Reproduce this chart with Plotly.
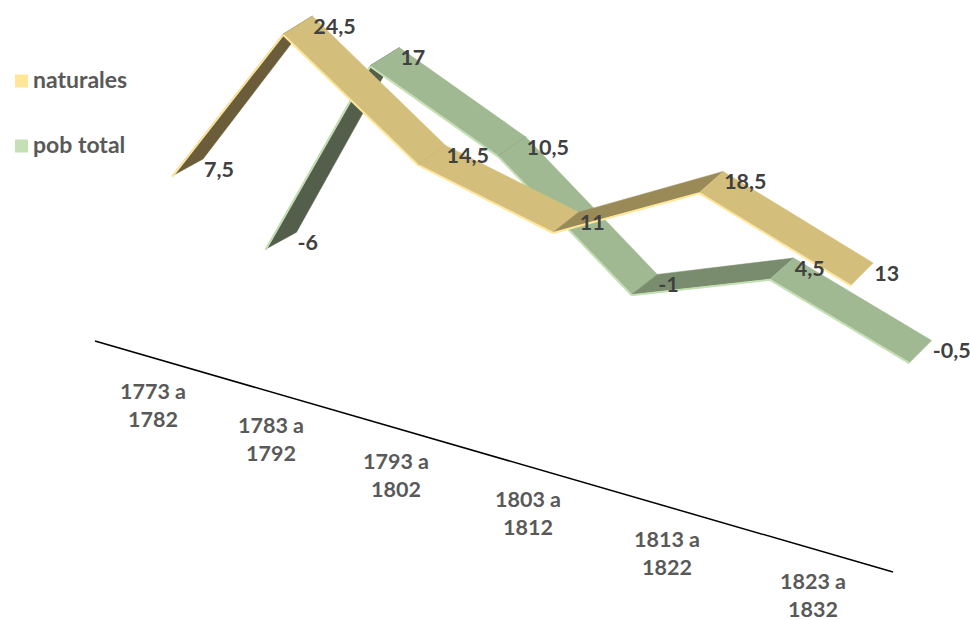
import plotly.graph_objects as go

categories = ["1773 a 1782", "1783 a 1792", "1793 a 1802", "1803 a 1812", "1813 a 1822", "1823 a 1832"]
naturales = [7.5, 24.5, 14.5, 11, 18.5, 13]
pob_total = [-6, 17, 10.5, -1, 4.5, -0.5]

FONT = "Lato, Carlito, Calibri, sans-serif"
# receding category axis: canvas offset of each category (perspective spacing)
AXIS_X = [0, 123, 251, 383.5, 535, 683]


def front(i, v, d):
    """Oblique 3-D projection: category i, value v, series depth d -> canvas position."""
    depth_x = 84 - 1.0 * i - 1.2 * i * i
    x = 177.3 + AXIS_X[i] - 0.7 * v + d * depth_x
    y = 251 + 28 * i + 1.2 * i * (i - 1) - (10 - 0.8 * d) * v - 57 * d
    return x, y


def back(i, v, d):
    x, y = front(i, v, d)
    return x + 31 - 1.8 * i, y - 17 - i


STYLE = {
    "naturales": dict(d=0, edge="#FFE699", fall="#D3BE7C", mild="#9A8A58", steep="#6B5D3A"),
    "pob total": dict(d=1, edge="#C5E0B4", fall="#A1B992", mild="#7A8C6E", steep="#535F4A"),
}

fig = go.Figure()


def add_ribbon(name, values):
    s = STYLE[name]
    d = s["d"]
    for i in range(len(values) - 1):
        v0, v1 = values[i], values[i + 1]
        change = v1 - v0
        color = s["steep"] if change > 10 else s["mild"] if change > 0 else s["fall"]
        a, b = front(i, v0, d), front(i + 1, v1, d)
        c, e = back(i + 1, v1, d), back(i, v0, d)
        fig.add_trace(go.Scatter(
            x=[a[0], b[0], c[0], e[0], a[0]], y=[a[1], b[1], c[1], e[1], a[1]],
            mode="lines", fill="toself", fillcolor=color, line=dict(width=0.5, color=color),
            hoverinfo="skip", showlegend=False))
        fig.add_trace(go.Scatter(
            x=[a[0], b[0]], y=[a[1] + 0.8, b[1] + 0.8], mode="lines",
            line=dict(width=2, color=s["edge"]), hoverinfo="skip", showlegend=False))
        # faint crease where two falling stretches meet
        if i > 0 and change < 0 and values[i] - values[i - 1] < 0:
            fig.add_trace(go.Scatter(
                x=[a[0], e[0]], y=[a[1], e[1]], mode="lines",
                line=dict(width=0.7, color="#8DA37E" if d else "#C8B170"),
                hoverinfo="skip", showlegend=False))


def add_labels(values, d):
    pts = [back(i, v, d) for i, v in enumerate(values)]
    fig.add_trace(go.Scatter(
        x=[p[0] + 1 for p in pts], y=[p[1] + 12.5 for p in pts], mode="text",
        text=[f"{v:g}".replace(".", ",") for v in values], textposition="middle right",
        textfont=dict(family=FONT, size=21.5, color="#404040", weight="bold"),
        hoverinfo="skip", showlegend=False))


add_ribbon("pob total", pob_total)
add_ribbon("naturales", naturales)
add_labels(pob_total, 1)
add_labels(naturales, 0)

# category labels, placed along the receding axis
n = range(len(categories))
fig.add_trace(go.Scatter(
    x=[153 + 118 * i + 3.5 * i * (i - 1) for i in n],
    y=[408 + 34 * i + 1.0 * i * (i - 1) for i in n],
    mode="text", text=[c.replace(" a ", " a<br>") for c in categories], textposition="middle center",
    textfont=dict(family=FONT, size=21.5, color="#595959", weight="bold"),
    hoverinfo="skip", showlegend=False))

# legend
legend_y = [81, 146]
for name, y in zip(["naturales", "pob total"], legend_y):
    fig.add_trace(go.Scatter(
        x=[21.5], y=[y], mode="markers", marker=dict(symbol="square", size=13, color=STYLE[name]["edge"], line=dict(width=0)),
        hoverinfo="skip", showlegend=False))
    fig.add_trace(go.Scatter(
        x=[33], y=[y + 1.5], mode="text", text=[name], textposition="middle right",
        textfont=dict(family=FONT, size=23, color="#595959", weight="bold"),
        hoverinfo="skip", showlegend=False))

fig.add_shape(type="line", x0=95, y0=341, x1=893, y1=572, line=dict(color="#000000", width=1.5), layer="below")

fig.update_layout(
    width=970, height=620, margin=dict(l=0, r=0, t=0, b=0),
    paper_bgcolor="white", plot_bgcolor="white", showlegend=False,
    xaxis=dict(range=[0, 970], visible=False, fixedrange=True),
    yaxis=dict(range=[620, 0], visible=False, fixedrange=True),
)
fig.write_html("out.html", config={"displayModeBar": False},
               post_script="document.body.style.margin='0';document.documentElement.style.overflow='hidden';")
